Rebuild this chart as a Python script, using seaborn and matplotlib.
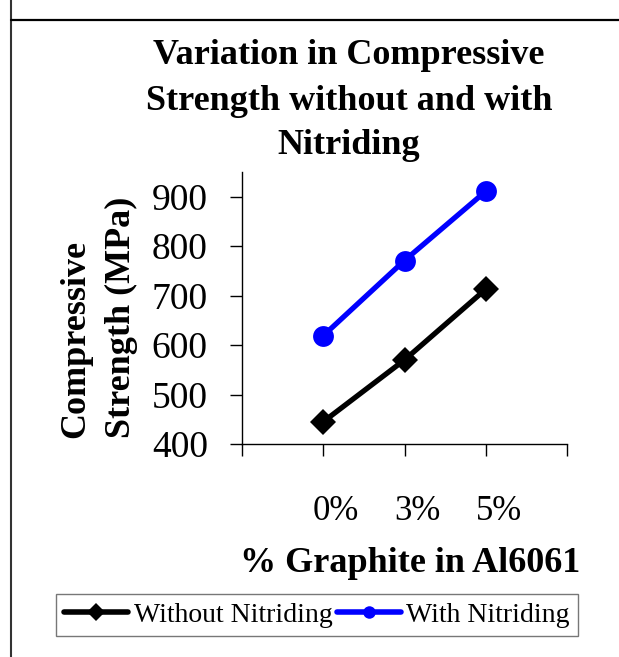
import numpy as np
import pandas as pd
import matplotlib
matplotlib.use("Agg")
import matplotlib.pyplot as plt
import matplotlib.transforms as mtransforms
from matplotlib.lines import Line2D
import seaborn as sns

# ---- data ----
categories = ["0%", "3%", "5%"]
without_nitriding = [445, 570, 713]
with_nitriding = [619, 771, 911]
series_names = ["Without Nitriding", "With Nitriding"]
y_ticks = [400, 500, 600, 700, 800, 900]

sns.set_style("white")
plt.rcParams["font.family"] = ["Liberation Serif", "DejaVu Serif"]
plt.rcParams["text.color"] = "black"
plt.rcParams["xtick.color"] = "black"
plt.rcParams["ytick.color"] = "black"
plt.rcParams["axes.labelcolor"] = "black"

W, H, DPI = 619, 657, 100
fig = plt.figure(figsize=(W / DPI, H / DPI), dpi=DPI)

# axes placement in pixels
x0, x1, ytop, ybot = 242, 567, 172, 444
ax = fig.add_axes([x0 / W, 1 - ybot / H, (x1 - x0) / W, (ybot - ytop) / H])

pos = np.arange(len(categories))
df = pd.DataFrame({
    "pos": np.concatenate([pos, pos]),
    "value": without_nitriding + with_nitriding,
    "series": [series_names[0]] * len(pos) + [series_names[1]] * len(pos),
})

sns.lineplot(data=df, x="pos", y="value", hue="series", style="series",
             palette={series_names[0]: "black", series_names[1]: "#0000FF"},
             markers={series_names[0]: "D", series_names[1]: "o"},
             dashes=False, linewidth=3.8, markersize=13, markeredgewidth=0,
             legend=False, ax=ax)
for ln in ax.lines:
    if ln.get_marker() == "D":
        ln.set_markersize(13)
    else:
        ln.set_markersize(15)

ax.set_xlim(-1, len(categories))
ax.set_ylim(400, 950)
ax.set_yticks(y_ticks)
ax.set_yticklabels([str(t) for t in y_ticks])
ax.set_xticks(np.arange(-1, len(categories) + 1))
ax.set_xticklabels([""] + categories + [""])
ax.set_xlabel("")
ax.set_ylabel("")

for s in ["top", "right"]:
    ax.spines[s].set_visible(False)
for s in ["left", "bottom"]:
    ax.spines[s].set_color("black")
    ax.spines[s].set_linewidth(1.0)

ax.tick_params(axis="both", which="major", direction="out", length=8.6,
               width=1.0, color="black", labelcolor="black",
               bottom=True, left=True, top=False, right=False)
ax.tick_params(axis="y", pad=16, labelsize=27)
ax.tick_params(axis="x", pad=28, labelsize=25)
offset = mtransforms.ScaledTranslation(13 / DPI, 0, fig.dpi_scale_trans)
for lab in ax.get_xticklabels():
    lab.set_transform(lab.get_transform() + offset)

# title
title_lines = ["Variation in Compressive", "Strength without and with", "Nitriding"]
for line, yc in zip(title_lines, [56, 101, 145]):
    fig.text(349 / W, 1 - yc / H, line, ha="center", va="center",
             fontsize=26, fontweight="bold", color="black")

# x label
fig.text(410 / W, 1 - 563 / H, "% Graphite in Al6061", ha="center", va="center",
         fontsize=26, fontweight="bold", color="black")

# y label
fig.text(99 / W, 1 - 317 / H, "Compressive\nStrength (MPa)", ha="center", va="center",
         rotation=90, multialignment="left", fontsize=26, fontweight="bold",
         linespacing=1.5, color="black")

# legend
handles = [
    Line2D([], [], color="black", lw=4, marker="D", markersize=9, markeredgewidth=0),
    Line2D([], [], color="#0000FF", lw=4, marker="o", markersize=9, markeredgewidth=0),
]
leg = fig.legend(handles, series_names, loc="center", bbox_to_anchor=(317 / W, 1 - 615 / H),
                 ncol=2, frameon=True, fancybox=False, fontsize=20,
                 handlelength=2.3, handletextpad=0.2, columnspacing=0.15,
                 borderpad=0.3, borderaxespad=0)
leg.get_frame().set_edgecolor("#555555")
leg.get_frame().set_linewidth(1.0)
for t in leg.get_texts():
    t.set_color("black")

# outer frame lines
fig.add_artist(Line2D([10.5 / W, 10.5 / W], [0, 1], transform=fig.transFigure,
                      color="#333333", lw=1.5))
fig.add_artist(Line2D([10.5 / W, 1], [1 - 20 / H, 1 - 20 / H], transform=fig.transFigure,
                      color="black", lw=1.6))

fig.savefig("out.png", dpi=DPI)
